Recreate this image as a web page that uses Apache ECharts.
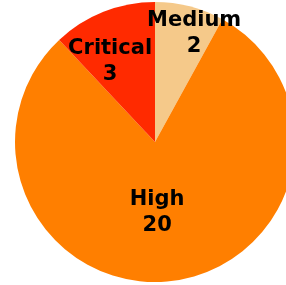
<!DOCTYPE html>
<html>
<head>
<meta charset="utf-8">
<script src="https://cdn.jsdelivr.net/npm/echarts@6/dist/echarts.min.js"></script>
<style>
  html, body { margin: 0; padding: 0; background: #fff; }
  #pie-chart { width: 286px; height: 285px; }
</style>
</head>
<body>
<div id="pie-chart"></div>
<script>
var categories = ['Medium', 'High', 'Critical'];
var counts = [2, 20, 3];

var sliceColors = { Medium: '#F5C98A', High: '#FF7F00', Critical: '#FF2A00' };
var labelOffsets = { Medium: [21, -38], High: [-7, -2], Critical: [-18, -13] };

var pieChart = echarts.init(document.getElementById('pie-chart'));

var pieData = categories.map(function (name, i) {
    return {
        name: name,
        value: counts[i],
        itemStyle: { color: sliceColors[name] },
        label: { offset: labelOffsets[name] }
    };
});

var option = {
    animation: false,
    series: [{
        type: 'pie',
        center: [155, 142],
        radius: [0, 140],
        startAngle: 90,
        clockwise: true,
        avoidLabelOverlap: false,
        minShowLabelAngle: 0,
        label: {
            show: true,
            position: 'inside',
            formatter: '{b}\n{c}',
            color: '#000',
            fontFamily: 'DejaVu Sans',
            fontWeight: 'bold',
            fontSize: 21,
            lineHeight: 26,
            align: 'center',
            overflow: 'none'
        },
        labelLayout: { hideOverlap: false },
        labelLine: { show: false },
        itemStyle: { borderWidth: 0 },
        emphasis: { disabled: true },
        data: pieData
    }]
};

pieChart.setOption(option);
</script>
</body>
</html>
